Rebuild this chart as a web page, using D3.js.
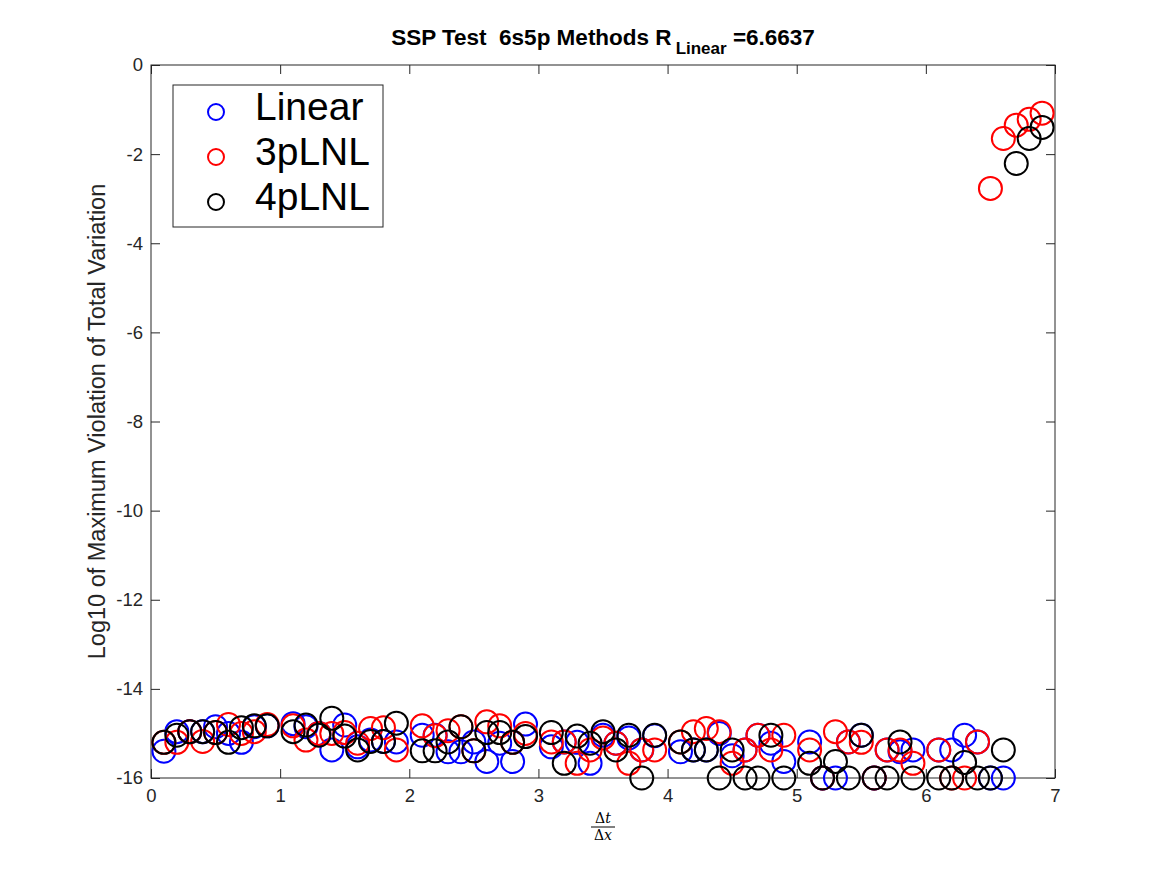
<!DOCTYPE html>
<html>
<head>
<meta charset="utf-8">
<script src="https://cdn.jsdelivr.net/npm/d3@7/dist/d3.min.js"></script>
<style>
  body { margin: 0; background: #fff; }
  text { font-family: "Liberation Sans", Arial, Helvetica, sans-serif; }
</style>
</head>
<body>
<div id="chart-area"></div>
<script>
// x = dt/dx, 0.1 .. 6.9 ; null where nothing plotted
var cfl = d3.range(1, 70).map(function(i){ return i / 10; });

var linear = [
  -15.4, -14.96, -14.96, -14.96, -14.85, -15.0, -15.2, -14.85, -14.83, null,
  -14.78, -14.85, -15.0, -15.37, -14.81, -15.3, -15.15, -15.18, -15.19, null,
  -15.04, -15.04, -15.41, -15.41, -15.19, -15.63, -15.22, -15.63, -14.79, null,
  -15.3, -15.19, -15.2, -15.67, -15.04, -15.22, -15.1, -15.37, -15.05, null,
  -15.41, -15.37, -15.37, -15.0, -15.5, -15.37, -15.04, -15.22, -15.63, null,
  -15.19, -16, -16, -15.19, -15.04, -16, -15.37, -15.41, -15.37, null,
  -15.37, -15.37, -15.04, -15.19, -16, -16, null, null, null
];

var pLNL3 = [
  -15.2, -15.2, -14.96, -15.18, -14.98, -14.8, -15.0, -14.96, -14.8, null,
  -14.83, -15.15, -15.0, -15.0, -14.98, -15.22, -14.89, -14.87, -15.37, null,
  -14.83, -15.05, -14.94, -14.85, -15.39, -14.74, -14.83, -15.2, -15.0, null,
  -15.19, -15.19, -15.67, -15.37, -15.1, -15.22, -15.67, -15.37, -15.37, null,
  -15.19, -14.96, -14.89, -14.96, -15.67, -15.37, -15.04, -15.37, -15.04, null,
  -15.37, -16, -14.96, -15.19, -15.2, -16, -15.37, -15.37, -15.67, null,
  -15.37, -16, -16, -15.19, -2.77, -1.65, -1.35, -1.22, -1.08
];

var pLNL4 = [
  -15.2, -15.04, -14.96, -14.96, -14.98, -15.2, -14.87, -14.83, -14.83, null,
  -14.96, -14.81, -15.04, -14.66, -15.06, -15.37, -15.18, -15.18, -14.77, null,
  -15.39, -15.39, -15.19, -14.85, -15.39, -14.98, -14.98, -15.2, -15.07, null,
  -14.98, -15.67, -15.06, -15.22, -14.96, -15.37, -15.04, -16, -15.04, null,
  -15.19, -15.37, -15.37, -16, -15.37, -16, -16, -15.04, -16, null,
  -15.67, -16, -15.63, -16, -15.04, -16, -16, -15.19, -16, null,
  -16, -16, -15.65, -16, -16, -15.37, -2.21, -1.65, -1.4
];

var seriesNames = ["Linear", "3pLNL", "4pLNL"];
var seriesColors = ["#0000ff", "#ff0000", "#000000"];
var seriesData = [linear, pLNL3, pLNL4];

var xTicks = [0, 1, 2, 3, 4, 5, 6, 7];
var yTicks = [0, -2, -4, -6, -8, -10, -12, -14, -16];

var W = 1167, H = 875;
var margin = { left: 151, right: 112, top: 65, bottom: 97 },
    width = W - margin.left - margin.right,
    height = H - margin.top - margin.bottom;

var axisColor = "#262626";

var svg = d3.select("#chart-area")
    .append("svg")
    .attr("width", W)
    .attr("height", H);

var g = svg.append("g")
    .attr("transform", "translate(" + margin.left + "," + margin.top + ")");

// Scales
var x = d3.scaleLinear().domain([0, 7]).range([0, width]);
var y = d3.scaleLinear().domain([-16, 0]).range([height, 0]);

var plainFmt = function(d){ return String(d); };

// Axes (ticks point inward, MATLAB box style)
var xAxisCall = d3.axisBottom(x).tickValues(xTicks).tickFormat(plainFmt)
    .tickSizeInner(-9).tickSizeOuter(0).tickPadding(11);
var yAxisCall = d3.axisLeft(y).tickValues(yTicks).tickFormat(plainFmt)
    .tickSizeInner(-9).tickSizeOuter(0).tickPadding(8);
var xTopCall = d3.axisTop(x).tickValues(xTicks).tickSizeInner(-9).tickSizeOuter(0).tickFormat("");
var yRightCall = d3.axisRight(y).tickValues(yTicks).tickSizeInner(-9).tickSizeOuter(0).tickFormat("");

function styleAxis(sel) {
    sel.select(".domain").remove();
    sel.selectAll("line").attr("stroke", axisColor);
    sel.selectAll("text")
        .attr("fill", axisColor)
        .attr("font-size", "18.5px")
        .style("font-family", "'Liberation Sans', Arial, sans-serif");
}

g.append("g").attr("transform", "translate(0," + height + ")").call(xAxisCall).call(styleAxis);
g.append("g").call(yAxisCall).call(styleAxis);
g.append("g").call(xTopCall).call(styleAxis);
g.append("g").attr("transform", "translate(" + width + ",0)").call(yRightCall).call(styleAxis);

g.append("rect")
    .attr("x", 0).attr("y", 0)
    .attr("width", width).attr("height", height)
    .attr("fill", "none")
    .attr("stroke", axisColor)
    .attr("stroke-width", 1);

// Points
seriesData.forEach(function(vals, i){
    var pts = cfl.map(function(c, j){ return { x: c, v: vals[j] }; })
        .filter(function(d){ return d.v !== null; });
    g.append("g")
        .selectAll("circle")
        .data(pts)
        .enter().append("circle")
        .attr("cx", function(d){ return x(d.x); })
        .attr("cy", function(d){ return y(d.v); })
        .attr("r", 11.5)
        .attr("fill", "none")
        .attr("stroke", seriesColors[i])
        .attr("stroke-width", 2);
});

// Title
var title = svg.append("text")
    .attr("x", margin.left + width / 2)
    .attr("y", 45)
    .attr("text-anchor", "middle")
    .attr("font-size", "22.5px")
    .attr("font-weight", "bold")
    .attr("fill", "#000");
title.append("tspan").text("SSP Test\u00a0\u00a06s5p Methods R");
title.append("tspan").attr("font-size", "17px").attr("dx", 4).attr("dy", 9).text("Linear");
title.append("tspan").attr("dy", -9).text("\u00a0=6.6637");

// Y label
svg.append("text")
    .attr("transform", "rotate(-90)")
    .attr("x", -(margin.top + height / 2))
    .attr("y", 105)
    .attr("text-anchor", "middle")
    .attr("font-size", "23.5px")
    .attr("fill", axisColor)
    .text("Log10 of Maximum Violation of Total Variation");

// X label: dt / dx fraction
var fx = margin.left + width / 2;
svg.append("text")
    .attr("x", fx).attr("y", 823)
    .attr("text-anchor", "middle")
    .attr("font-size", "14px")
    .style("font-family", "'DejaVu Serif', 'Liberation Serif', serif")
    .html("\u0394<tspan font-style='italic'>t</tspan>");
svg.append("line")
    .attr("x1", fx - 12).attr("x2", fx + 12)
    .attr("y1", 827).attr("y2", 827)
    .attr("stroke", "#000").attr("stroke-width", 1);
svg.append("text")
    .attr("x", fx).attr("y", 840)
    .attr("text-anchor", "middle")
    .attr("font-size", "14px")
    .style("font-family", "'DejaVu Serif', 'Liberation Serif', serif")
    .html("\u0394<tspan font-style='italic'>x</tspan>");

// Legend
var legend = svg.append("g").attr("transform", "translate(173,85)");
legend.append("rect")
    .attr("width", 210).attr("height", 142)
    .attr("fill", "#fff")
    .attr("stroke", axisColor)
    .attr("stroke-width", 1);
seriesNames.forEach(function(name, i){
    var row = legend.append("g").attr("transform", "translate(0," + (27 + i * 45) + ")");
    row.append("circle")
        .attr("cx", 43).attr("cy", 0).attr("r", 8)
        .attr("fill", "none")
        .attr("stroke", seriesColors[i])
        .attr("stroke-width", 2);
    row.append("text")
        .attr("x", 82).attr("y", 8)
        .attr("font-size", "39px")
        .attr("fill", "#000")
        .text(name);
});
</script>
</body>
</html>
